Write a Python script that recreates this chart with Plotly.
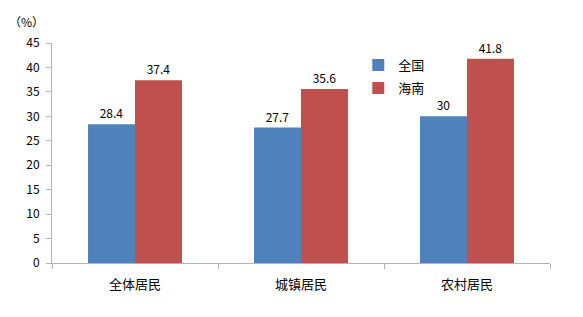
import plotly.graph_objects as go

categories = ["全体居民", "城镇居民", "农村居民"]
national = [28.4, 27.7, 30]
hainan = [37.4, 35.6, 41.8]
series_names = ["全国", "海南"]
colors = ["#4F81BD", "#C0504D"]
y_ticks = [0, 5, 10, 15, 20, 25, 30, 35, 40, 45]

FONT = "Noto Sans CJK SC"

fig = go.Figure()
for i, (name, vals) in enumerate(zip(series_names, [national, hainan])):
    fig.add_trace(go.Bar(
        x=categories, y=vals, name=name,
        marker=dict(color=colors[i], line=dict(width=0)),
        text=[str(v) for v in vals], textposition="outside",
        textfont=dict(size=12, color="#000000", family=FONT),
        cliponaxis=False, legendgroup=name,
    ))

fig.update_layout(
    width=583, height=317,
    margin=dict(l=52, r=33, t=43, b=54),
    paper_bgcolor="white", plot_bgcolor="white",
    barmode="group", bargap=0.434, bargroupgap=0,
    font=dict(family=FONT, size=12, color="#000000"),
    showlegend=True,
    legend=dict(x=0.615, y=0.968, xanchor="left", yanchor="top",
                font=dict(size=13, family=FONT), bgcolor="rgba(0,0,0,0)",
                traceorder="grouped", tracegroupgap=3, itemwidth=30),
    xaxis=dict(showline=True, linecolor="#B3B3B3", linewidth=1,
               ticks="outside", tickson="boundaries", ticklen=5, tickcolor="#B3B3B3",
               tickfont=dict(size=13, family=FONT), showgrid=False,
               ticklabelstandoff=9),
    yaxis=dict(range=[0, 45], tickvals=y_ticks, showline=True, linecolor="#B3B3B3",
               linewidth=1, ticks="outside", ticklen=5, tickcolor="#B3B3B3",
               showgrid=False, zeroline=False, tickfont=dict(size=12, family=FONT),
               ticklabelstandoff=4),
    annotations=[dict(text="（%）", xref="paper", yref="paper", x=-0.012, y=1.05,
                      xanchor="right", yanchor="bottom", showarrow=False,
                      font=dict(size=12, family=FONT))],
)

fig.write_html("out.html")
